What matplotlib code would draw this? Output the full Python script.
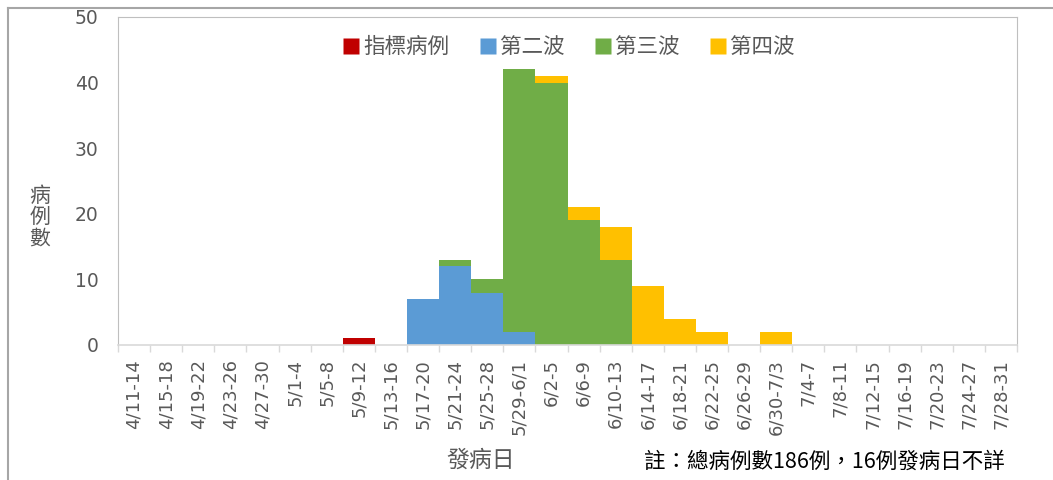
import numpy as np
import matplotlib.pyplot as plt
from matplotlib.lines import Line2D

plt.rcParams['font.family'] = ['DejaVu Sans', 'Noto Sans CJK TC']

periods = ['4/11-14', '4/15-18', '4/19-22', '4/23-26', '4/27-30', '5/1-4', '5/5-8',
           '5/9-12', '5/13-16', '5/17-20', '5/21-24', '5/25-28', '5/29-6/1', '6/2-5',
           '6/6-9', '6/10-13', '6/14-17', '6/18-21', '6/22-25', '6/26-29', '6/30-7/3',
           '7/4-7', '7/8-11', '7/12-15', '7/16-19', '7/20-23', '7/24-27', '7/28-31']

index_case = [0, 0, 0, 0, 0, 0, 0, 1, 0, 0, 0, 0, 0, 0, 0, 0, 0, 0, 0, 0, 0, 0, 0, 0, 0, 0, 0, 0]
wave2 = [0, 0, 0, 0, 0, 0, 0, 0, 0, 7, 12, 8, 2, 0, 0, 0, 0, 0, 0, 0, 0, 0, 0, 0, 0, 0, 0, 0]
wave3 = [0, 0, 0, 0, 0, 0, 0, 0, 0, 0, 1, 2, 40, 40, 19, 13, 0, 0, 0, 0, 0, 0, 0, 0, 0, 0, 0, 0]
wave4 = [0, 0, 0, 0, 0, 0, 0, 0, 0, 0, 0, 0, 0, 1, 2, 5, 9, 4, 2, 0, 2, 0, 0, 0, 0, 0, 0, 0]

series_names = ['指標病例', '第二波', '第三波', '第四波']
colors = ['#C00000', '#5B9BD5', '#70AD47', '#FFC000']

grey = '#595959'
cjk = ['Noto Sans CJK TC', 'DejaVu Sans']

fig = plt.figure(figsize=(10.53, 4.8), dpi=100)
ax = fig.add_axes([118/1053, 1 - 345/480, (1017 - 118)/1053, (345 - 17)/480])

x = np.arange(len(periods))
bottom = np.zeros(len(periods))
handles = []
for vals, name, c in zip([index_case, wave2, wave3, wave4], series_names, colors):
    v = np.array(vals, dtype=float)
    ax.bar(x, v, width=1.0, bottom=bottom, color=c, edgecolor='none', label=name)
    bottom += v
    handles.append(Line2D([], [], marker='s', color='none', markerfacecolor=c,
                          markeredgecolor='none', markersize=12, label=name))

ax.set_xlim(-0.5, len(periods) - 0.5)
ax.set_ylim(0, 50)
ax.set_yticks(range(0, 51, 10))
ax.tick_params(axis='y', length=0, labelsize=13.5, colors=grey, pad=14)

ax.set_xticks(x)
ax.set_xticklabels(periods, rotation=90, fontsize=13, color=grey)
ax.set_xticks(np.arange(-0.5, len(periods)), minor=True)
ax.tick_params(axis='x', which='major', length=0, pad=10)
ax.tick_params(axis='x', which='minor', length=5, color='#D9D9D9', width=1)

for s in ['top', 'right', 'left']:
    ax.spines[s].set_color('#BFBFBF')
ax.spines['bottom'].set_color('#D9D9D9')
ax.spines['bottom'].set_linewidth(1.2)

leg = ax.legend(handles=handles, loc='upper center', bbox_to_anchor=(0.5, 1.0), ncol=4,
                frameon=False, prop={'family': cjk, 'size': 15.5}, handletextpad=0.05,
                columnspacing=1.3, handlelength=1.0)
for t in leg.get_texts():
    t.set_color(grey)

fig.text(40/1053, 1 - 217/480, '病\n例\n數', ha='center', va='center', fontsize=15,
         color=grey, family=cjk, linespacing=0.95)
fig.text(481/1053, 1 - 460/480, '發病日', ha='center', va='center', fontsize=16.5,
         color=grey, family=cjk)
fig.text(1005/1053, 1 - 462/480, '註：總病例數186例，16例發病日不詳', ha='right', va='center',
         fontsize=15.5, color='black', family=cjk)

# outer chart frame (left and top edges visible)
fig.add_artist(Line2D([8/1053, 8/1053], [0, 1 - 8/480], color='#A6A6A6', lw=1.5,
                      transform=fig.transFigure))
fig.add_artist(Line2D([8/1053, 1], [1 - 8/480, 1 - 8/480], color='#A6A6A6', lw=1.5,
                      transform=fig.transFigure))

fig.savefig('out.png', dpi=100)
